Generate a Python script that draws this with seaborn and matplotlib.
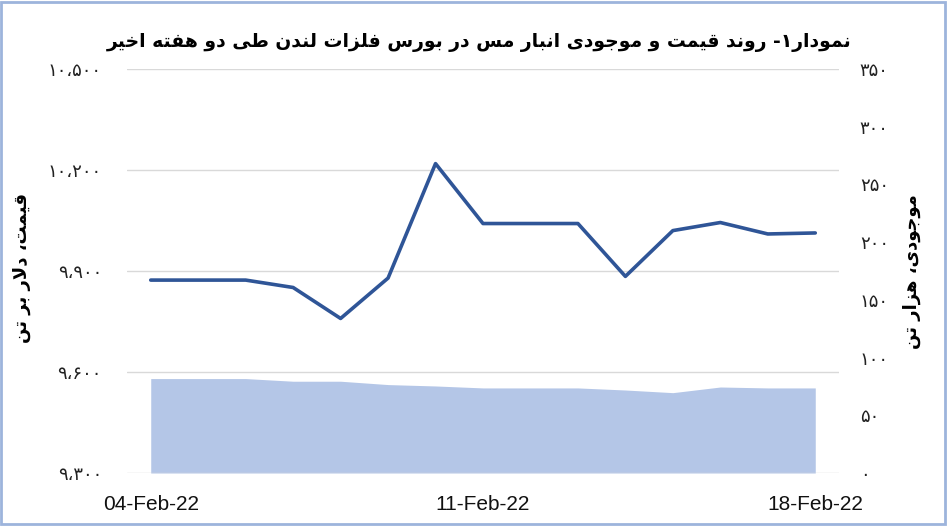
import matplotlib
matplotlib.use('Agg')
import matplotlib.pyplot as plt
import seaborn as sns
import pandas as pd
from matplotlib.patches import Rectangle

# ---------------- data ----------------
dates = ['04-Feb-22', '05-Feb-22', '06-Feb-22', '07-Feb-22', '08-Feb-22',
         '09-Feb-22', '10-Feb-22', '11-Feb-22', '12-Feb-22', '13-Feb-22',
         '14-Feb-22', '15-Feb-22', '16-Feb-22', '17-Feb-22', '18-Feb-22']
price = [9873, 9873, 9873, 9851, 9759, 9879, 10219, 10041, 10041, 10041,
         9884, 10020, 10044, 10010, 10013]
stock = [81.8, 81.8, 81.8, 79.5, 79.5, 76.6, 75.4, 73.7, 73.7, 73.7,
         71.9, 69.6, 74.5, 73.7, 73.7]
date_ticks = ['04-Feb-22', '11-Feb-22', '18-Feb-22']
price_ticks = [9300, 9600, 9900, 10200, 10500]
stock_ticks = [0, 50, 100, 150, 200, 250, 300, 350]
title = 'نمودار۱- روند قیمت و موجودی انبار مس در بورس فلزات لندن طی دو هفته اخیر'
left_label = 'قیمت، دلار بر تن'
right_label = 'موجودی، هزار تن'

# ------------- Persian shaping (contextual forms + visual order) -------------
_FORMS = {
    'ا': ('\uFE8D', '\uFE8E', None, None),
    'ب': ('\uFE8F', '\uFE90', '\uFE91', '\uFE92'),
    'ت': ('\uFE95', '\uFE96', '\uFE97', '\uFE98'),
    'ج': ('\uFE9D', '\uFE9E', '\uFE9F', '\uFEA0'),
    'خ': ('\uFEA5', '\uFEA6', '\uFEA7', '\uFEA8'),
    'د': ('\uFEA9', '\uFEAA', None, None),
    'ر': ('\uFEAD', '\uFEAE', None, None),
    'ز': ('\uFEAF', '\uFEB0', None, None),
    'س': ('\uFEB1', '\uFEB2', '\uFEB3', '\uFEB4'),
    'ط': ('\uFEC1', '\uFEC2', '\uFEC3', '\uFEC4'),
    'ف': ('\uFED1', '\uFED2', '\uFED3', '\uFED4'),
    'ق': ('\uFED5', '\uFED6', '\uFED7', '\uFED8'),
    'ل': ('\uFEDD', '\uFEDE', '\uFEDF', '\uFEE0'),
    'م': ('\uFEE1', '\uFEE2', '\uFEE3', '\uFEE4'),
    'ن': ('\uFEE5', '\uFEE6', '\uFEE7', '\uFEE8'),
    'ه': ('\uFEE9', '\uFEEA', '\uFEEB', '\uFEEC'),
    'و': ('\uFEED', '\uFEEE', None, None),
    'ی': ('\uFBFC', '\uFBFD', '\uFBFE', '\uFBFF'),
}
_LAMALEF = ('\uFEFB', '\uFEFC')


def _joins_next(c):
    return c in _FORMS and _FORMS[c][2] is not None


def shape(s):
    ch = list(s)
    n = len(ch)
    res = []
    i = 0
    while i < n:
        c = ch[i]
        if c not in _FORMS:
            res.append(c)
            i += 1
            continue
        prev = ch[i - 1] if i > 0 else None
        conn_prev = prev is not None and _joins_next(prev)
        if c == 'ل' and i + 1 < n and ch[i + 1] == 'ا':
            res.append(_LAMALEF[1] if conn_prev else _LAMALEF[0])
            i += 2
            continue
        nxt = ch[i + 1] if i + 1 < n else None
        conn_next = nxt is not None and nxt in _FORMS and _joins_next(c)
        iso, fin, ini, med = _FORMS[c]
        if conn_prev and conn_next:
            res.append(med)
        elif conn_prev:
            res.append(fin)
        elif conn_next:
            res.append(ini)
        else:
            res.append(iso)
        i += 1
    return ''.join(reversed(res))


_FA_DIGITS = str.maketrans('0123456789', '۰۱۲۳۴۵۶۷۸۹')


def fa_num(v):
    return f'{v:,}'.replace(',', '،').translate(_FA_DIGITS)


# ---------------- plot ----------------
sns.set_theme(style='white')
plt.rcParams['font.family'] = ['DejaVu Sans']

df = pd.DataFrame({'x': range(len(dates)), 'date': dates,
                   'price': price, 'stock': stock})

fig = plt.figure(figsize=(9.48, 5.26), dpi=100)
ax = fig.add_axes([127 / 948, 1 - 473 / 526, (839 - 127) / 948, (473 - 69) / 526])
ax2 = ax.twinx()
ax.set_zorder(ax2.get_zorder() + 1)
ax.patch.set_visible(False)

# stock area (right axis)
ax2.fill_between(df['x'], 0, df['stock'], color='#B4C6E7', linewidth=0, zorder=1)
ax2.set_ylim(0, 350)
ax2.set_yticks(stock_ticks)
ax2.set_yticklabels([fa_num(v) for v in stock_ticks], fontsize=13, color='#222222')

# price line (left axis)
sns.lineplot(data=df, x='x', y='price', ax=ax, color='#2F5597', linewidth=2.6,
             zorder=3)
ax.set_ylim(9300, 10500)
ax.set_yticks(price_ticks)
ax.set_yticklabels([fa_num(v) for v in price_ticks], fontsize=13, color='#222222')
ax.set_xlim(-0.5, len(dates) - 0.5)
ax.set_xticks([dates.index(d) for d in date_ticks])
ax.set_xticklabels(date_ticks, fontsize=15, family='Liberation Sans', color='#111111')
ax.set_xlabel('')
ax.set_ylabel('')
ax.grid(axis='y', color='#D9D9D9', linewidth=1.0)
ax.grid(axis='x', visible=False)
ax2.grid(False)

for a in (ax, ax2):
    for sp in a.spines.values():
        sp.set_visible(False)
ax.tick_params(axis='y', length=0, pad=18)
ax.tick_params(axis='x', length=0, pad=16)
ax2.tick_params(axis='y', length=0, pad=15)

fig.text(0.505, 1 - 42 / 526, shape(title), ha='center', va='center',
         fontsize=13.5, fontweight='bold', color='black')
fig.text(22 / 948, 1 - 268 / 526, shape(left_label), ha='center', va='center',
         rotation=90, fontsize=13, fontweight='bold', color='black')
fig.text(912 / 948, 1 - 272 / 526, shape(right_label), ha='center', va='center',
         rotation=90, fontsize=13, fontweight='bold', color='black')

fig.patches.append(Rectangle((1 / 948, 2 / 526), 944 / 948, 522 / 526,
                             transform=fig.transFigure, fill=False,
                             edgecolor='#9DB4DC', linewidth=2))

fig.savefig('out.png', dpi=100)
